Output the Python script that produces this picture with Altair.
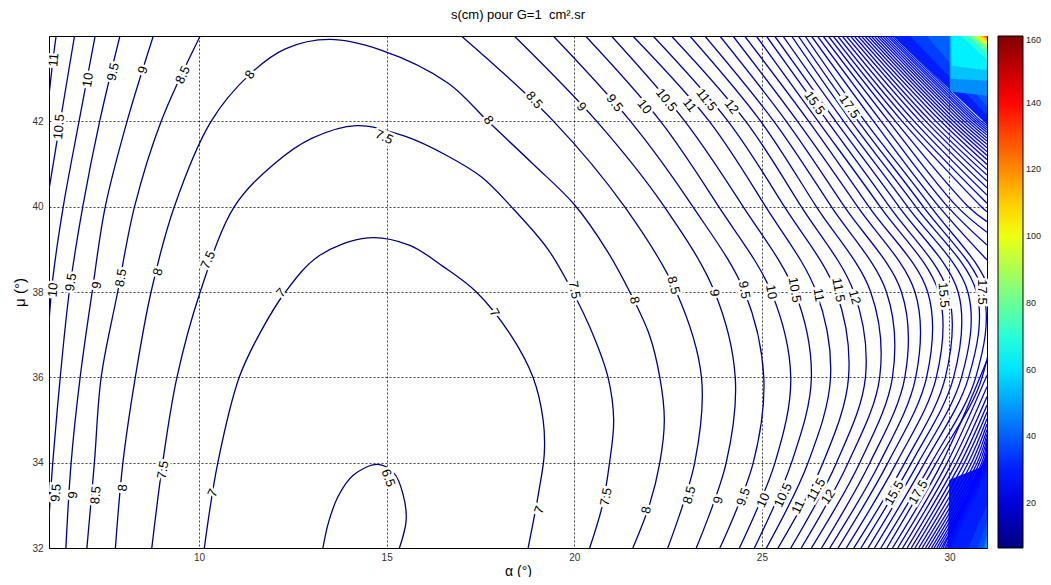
import altair as alt
import pandas as pd

TITLE = "s(cm) pour G=1\u00a0 cm².sr"
X_TITLE = "α (°)"
Y_TITLE = "μ (°)"
X_TICKS = [10, 15, 20, 25, 30]
Y_TICKS = [32, 34, 36, 38, 40, 42]
CBAR_TICKS = [20, 40, 60, 80, 100, 120, 140, 160]
FONT = "Liberation Sans"

# ---- closed / U-shaped contours (alpha, mu)
C65_A = [13.3, 13.45, 13.7, 14.1, 14.76, 15.2, 15.43, 15.52, 15.34]
C65_MU = [32, 32.6, 33.2, 33.7, 33.96, 33.75, 33.28, 32.66, 32]
C7_A = [10.14, 10.5, 11.07, 11.6, 12.3, 13.2, 14.5, 15.6, 16.5, 17.39, 18.3, 18.9, 19.17, 19.2, 19.05, 18.77]
C7_MU = [32, 34, 36, 37, 38, 38.85, 39.27, 39.1, 38.6, 38, 37, 36, 35, 34.2, 33.3, 32]
C75_A = [8.74, 9.03, 9.41, 10.03, 10.94, 12.0, 13.0, 14.2, 15.52, 16.6, 17.52, 18.32, 19.3, 19.96, 20.5, 20.9, 21.05, 20.94, 20.75, 20.41]
C75_MU = [32, 34, 36, 38, 40, 41.0, 41.6, 41.9, 41.64, 41.2, 40.7, 40.0, 39.0, 38, 37, 36, 35, 34, 33, 32]
C8_A = [7.77, 7.97, 8.3, 8.72, 9.34, 10.32, 11.35, 12.3, 13.48, 14.85, 16.63, 17.7, 18.9, 20.0, 20.85, 21.48, 22.0, 22.28, 22.4, 22.28, 22.0, 21.56]
C8_MU = [32, 34, 36, 38, 40, 42, 43.1, 43.7, 43.92, 43.67, 42.9, 42.0, 41.0, 40.05, 39.0, 38, 37, 36, 35, 34, 33, 32]

# ---- left branches
L85_A = [10.03, 8.99, 8.28, 7.83, 7.39, 7.21, 7.01]
L85_MU = [44, 42, 40, 38, 36, 34, 32]
L9_A = [8.78, 8.08, 7.5, 7.15, 6.83, 6.59, 6.45]
L9_MU = [44, 42, 40, 38, 36, 34, 32]
L95_A = [7.89, 7.35, 6.9, 6.54, 6.3, 6.1, 6.0]
L95_MU = [44, 42, 40, 38, 36, 34, 32.7]
L10_A = [7.23, 6.8, 6.38, 6.1, 6.0]
L10_MU = [44, 42, 40, 38.3, 37.3]
L105_A = [6.68, 6.3, 6.0]
L105_MU = [44, 42, 40.4]
L11_A = [6.19, 6.1, 6.0]
L11_MU = [44, 43.4, 42.6]

# ---- right branches: alpha where each level crosses the mu rows
RIGHT_LEVELS = [8.5, 9, 9.5, 10, 10.5, 11, 11.5, 12, 12.5, 13, 13.5, 14, 14.5, 15, 15.5, 16, 16.5, 17, 17.5, 18]
ROW_MU = [44, 42, 40, 38, 36, 34, 32]
R_A44 = [16.99, 18.40, 19.44, 20.30, 20.99, 21.56, 22.10, 22.59, 23.08, 23.48, 23.88, 24.23, 24.54, 24.85, 25.12, 25.34, 25.56, 25.79, 25.97, 26.15]
R_A42 = [19.45, 20.60, 21.50, 22.30, 22.95, 23.60, 24.10, 24.57, 24.97, 25.32, 25.65, 25.95, 26.25, 26.50, 26.75, 26.97, 27.18, 27.38, 27.57, 27.75]
R_A40 = [21.34, 22.40, 23.16, 23.85, 24.50, 25.10, 25.60, 26.05, 26.45, 26.85, 27.20, 27.55, 27.85, 28.15, 28.40, 28.65, 28.88, 29.10, 29.30, 29.50]
R_A38 = [22.72, 23.74, 24.54, 25.25, 25.88, 26.45, 26.98, 27.45, 27.90, 28.32, 28.72, 29.08, 29.42, 29.71, 29.96, 30.23, 30.49, 30.72, 30.90, 31.07]
R_A36 = [23.39, 24.29, 25.05, 25.77, 26.32, 26.83, 27.31, 27.76, 28.14, 28.48, 28.81, 29.10, 29.39, 29.65, 29.89, 30.11, 30.32, 30.51, 30.70, 30.87]
R_A34 = [23.21, 24.05, 24.77, 25.35, 25.79, 26.23, 26.63, 26.99, 27.30, 27.61, 27.88, 28.14, 28.36, 28.59, 28.81, 28.99, 29.17, 29.34, 29.52, 29.65]
R_A32 = [22.49, 23.25, 23.88, 24.40, 24.80, 25.12, 25.43, 25.77, 26.05, 26.32, 26.59, 26.81, 27.03, 27.25, 27.45, 27.64, 27.83, 28.00, 28.17, 28.33]

# ---- dense levels near the right corners
DENSE_LEVELS = [18.5, 19, 19.5, 20, 20.5, 21, 21.5, 22, 22.5, 23, 23.5, 24, 24.5, 25, 25.5, 26, 26.5, 27, 27.5, 28, 28.5, 29, 29.5, 30]
D_A44 = [26.32, 26.48, 26.63, 26.77, 26.90, 27.02, 27.14, 27.25, 27.36, 27.46, 27.56, 27.65, 27.74, 27.83, 27.91, 27.99, 28.07, 28.14, 28.21, 28.28, 28.35, 28.41, 28.47, 28.53]
D_A42 = [27.98, 28.18, 28.38, 28.56, 28.74, 28.90, 29.06, 29.22, 29.37, 29.50, 29.64, 29.77, 29.89, 30.00, 30.10, 30.20, 30.30, 30.39, 30.48, 30.56, 30.64, 30.71, 30.78, 30.85]
D_A40 = [29.72, 29.95, 30.2, 30.5, 30.85, None, None, None, None, None, None, None, None, None, None, None, None, None, None, None, None, None, None, None]
D_MU_UP = [38.75, 39.1, 39.4, 39.65, 39.88, 40.08, 40.27, 40.44, 40.6, 40.74, 40.87, 40.99, 41.1, 41.2, 41.29, 41.38, 41.46, 41.54, 41.61, 41.68, 41.74, 41.8, 41.85, 41.9]
D_MU_LO = [36.4, 36.05, 35.78, 35.55, 35.35, 35.18, 35.03, 34.9, 34.78, 34.67, 34.57, 34.48, 34.4, 34.32, 34.25, 34.18, 34.11, 34.05, 33.99, 33.93, 33.87, 33.81, 33.75, 33.7]
D_A34 = [29.8, 29.94, 30.07, 30.19, 30.3, 30.4, 30.5, 30.59, 30.67, 30.74, 30.8, 30.86, 30.91, 30.95, 30.98, None, None, None, None, None, None, None, None, None]
D_A32 = [28.48, 28.62, 28.75, 28.87, 28.98, 29.08, 29.18, 29.27, 29.36, 29.44, 29.52, 29.59, 29.66, 29.72, 29.78, 29.83, 29.88, 29.92, 29.96, 29.99, 30.02, 30.04, 30.06, 30.08]

# ---- filled (saturated) bands in the corners: edge point, optional bend point, point on right edge
TR_LEVELS = [30, 35, 40, 47, 55, 62, 70, 80, 90, 100, 110, 120, 130, 140]
TR_A44 = [28.5, 28.95, 29.4, 30.0, 30.02, 30.05, 30.3, 30.5, 30.62, 30.72, 30.8, 30.88, 30.94, 30.98]
TR_BEND_A = [None, None, None, 30.01, 30.03, 30.06, None, None, None, None, None, None, None, None]
TR_BEND_MU = [None, None, None, 42.7, 43.0, 43.3, None, None, None, None, None, None, None, None]
TR_MU31 = [41.92, 42.15, 42.35, 42.6, 42.95, 43.2, 43.45, 43.62, 43.72, 43.8, 43.86, 43.92, 43.96, 43.99]
BR_LEVELS = [30, 34, 38, 44, 52]
BR_A32 = [29.95, 30.5, 30.75, 30.9, 30.97]
BR_BEND_A = [30.0, None, None, None, None]
BR_BEND_MU = [33.6, None, None, None, None]
BR_MU31 = [33.95, 33.0, 32.6, 32.3, 32.12]

# ---- contour labels
LAB_TEXT = ["11", "10.5", "10", "9.5", "9", "8.5", "8", "7.5",
            "8", "8.5", "9", "9.5", "10", "10.5", "11", "11.5", "12", "15.5", "17.5",
            "10", "9.5", "9", "8.5", "8", "7.5", "7",
            "7", "7.5", "8", "8.5", "9", "9.5", "10", "10.5", "11", "11.5", "12", "15.5", "17.5",
            "9.5", "9", "8.5", "8", "7.5", "7", "6.5",
            "7", "7.5", "8", "8.5", "9", "9.5", "10", "10.5", "11", "11.5", "12", "15.5", "17.5"]
LAB_A = [6.13, 6.27, 7.04, 7.71, 8.51, 9.57, 11.36, 14.93,
         17.71, 18.93, 20.19, 21.07, 21.87, 22.45, 23.07, 23.52, 24.19, 26.4, 27.33,
         6.11, 6.59, 7.28, 7.92, 8.91, 10.24, 12.19,
         17.87, 20.0, 21.6, 22.64, 23.73, 24.53, 25.25, 25.87, 26.51, 27.04, 27.47, 29.84, 30.88,
         6.19, 6.64, 7.25, 7.97, 9.04, 10.37, 15.04,
         19.07, 20.85, 21.92, 23.07, 23.84, 24.51, 25.04, 25.57, 25.97, 26.45, 26.77, 28.53, 29.17]
LAB_MU = [43.44, 41.87, 42.97, 43.16, 43.2, 43.09, 43.09, 41.63,
          42.03, 42.5, 42.34, 42.43, 42.34, 42.5, 42.38, 42.5, 42.34, 42.43, 42.34,
          38.05, 38.23, 38.16, 38.33, 38.47, 38.75, 37.98,
          37.51, 38.05, 37.81, 38.16, 37.98, 38.05, 38.0, 38.05, 37.93, 38.05, 37.88, 37.93, 38.0,
          33.29, 33.24, 33.24, 33.41, 33.83, 33.29, 33.64,
          32.89, 33.2, 32.89, 33.24, 33.12, 33.2, 33.12, 33.24, 32.96, 33.36, 33.2, 33.29, 33.31]
LAB_ANGLE = [275, 275, 278, 282, 288, 295, 305, 25,
             55, 50, 50, 52, 52, 52, 52, 52, 52, 55, 55,
             275, 278, 280, 280, 285, 295, 312,
             60, 80, 78, 75, 85, 80, 80, 80, 80, 80, 75, 85, 90,
             275, 275, 275, 275, 280, 295, 70,
             290, 280, 280, 285, 285, 290, 295, 295, 295, 300, 305, 300, 300]

# ---------------- assemble tables
line_rows = []


def add_path(key, level, xs, ys):
    k = 0
    for a, m in zip(xs, ys):
        if a is None or m is None:
            continue
        line_rows.append({"key": key, "level": level, "i": k, "a": a, "mu": m})
        k += 1


add_path("c65", 6.5, C65_A, C65_MU)
add_path("c7", 7.0, C7_A, C7_MU)
add_path("c75", 7.5, C75_A, C75_MU)
add_path("c8", 8.0, C8_A, C8_MU)
add_path("l85", 8.5, L85_A, L85_MU)
add_path("l9", 9.0, L9_A, L9_MU)
add_path("l95", 9.5, L95_A, L95_MU)
add_path("l10", 10.0, L10_A, L10_MU)
add_path("l105", 10.5, L105_A, L105_MU)
add_path("l11", 11.0, L11_A, L11_MU)
for j, lev in enumerate(RIGHT_LEVELS):
    xs = [R_A44[j], R_A42[j], R_A40[j], R_A38[j], R_A36[j], R_A34[j], R_A32[j]]
    add_path(f"r{lev}", lev, xs, ROW_MU)
for j, lev in enumerate(DENSE_LEVELS):
    add_path(f"dt{lev}", lev, [D_A44[j], D_A42[j], D_A40[j], 31.0], [44, 42, 40, D_MU_UP[j]])
    add_path(f"db{lev}", lev, [31.0, D_A34[j], D_A32[j]], [D_MU_LO[j], 34, 32])
lines = pd.DataFrame(line_rows)

area_rows = []


def add_band(key, level, pts, edge):
    for a, m in pts:
        if a is None or m is None:
            continue
        area_rows.append({"key": key, "level": level, "a": a, "mu": m, "edge": edge})


for j, lev in enumerate(TR_LEVELS):
    add_band(f"t{lev:03d}", lev, [(TR_A44[j], 44), (TR_BEND_A[j], TR_BEND_MU[j]), (31.0, TR_MU31[j])], 44)
for j, lev in enumerate(BR_LEVELS):
    add_band(f"u{lev:03d}", lev, [(BR_A32[j], 32), (BR_BEND_A[j], BR_BEND_MU[j]), (31.0, BR_MU31[j])], 32)
areas = pd.DataFrame(area_rows)

labels = pd.DataFrame({"t": LAB_TEXT, "a": LAB_A, "mu": LAB_MU, "ang": LAB_ANGLE})

# ---------------- chart
xs = alt.Scale(domain=[6, 31], nice=False, zero=False)
ys = alt.Scale(domain=[32, 44], nice=False, zero=False)
cscale = alt.Scale(domain=[6.5, 25.69, 64.06, 102.44, 140.81, 160],
                   range=["#000080", "#0000ff", "#00ffff", "#ffff00", "#ff0000", "#800000"],
                   interpolate="rgb")
legend = alt.Legend(title=None, type="gradient", orient="right", offset=11, gradientLength=512,
                    gradientThickness=25, values=CBAR_TICKS, labelFontSize=9,
                    labelFont=FONT, labelColor="#222", gradientStrokeColor="#000",
                    gradientStrokeWidth=1, labelOffset=3, padding=0, direction="vertical")
xenc = alt.X("a:Q", scale=xs, axis=alt.Axis(values=X_TICKS, title=X_TITLE, titleFontSize=14,
                                           titlePadding=2, labelPadding=4, grid=True))
yenc = alt.Y("mu:Q", scale=ys, stack=None,
             axis=alt.Axis(values=Y_TICKS, title=Y_TITLE, titleFontSize=15,
                           titlePadding=4, labelPadding=6, grid=True))

area_layer = alt.Chart(areas).mark_area(clip=True, opacity=1).encode(
    x=xenc, y=yenc, y2=alt.Y2("edge:Q"),
    color=alt.Color("level:Q", scale=cscale, legend=legend),
    detail="key:N",
)
line_layer = alt.Chart(lines).mark_line(clip=True, strokeWidth=1.3, interpolate="catmull-rom").encode(
    x=xenc, y=yenc,
    color=alt.Color("level:Q", scale=cscale, legend=None),
    detail="key:N", order=alt.Order("i:Q"),
)
halo = alt.Chart(labels).mark_text(font=FONT, fontSize=13, stroke="white", strokeWidth=5,
                                   fill="white", align="center", baseline="middle").encode(
    x=xenc, y=yenc, text="t:N", angle=alt.Angle("ang:Q", scale=None))
text = alt.Chart(labels).mark_text(font=FONT, fontSize=13, color="black",
                                   align="center", baseline="middle").encode(
    x=xenc, y=yenc, text="t:N", angle=alt.Angle("ang:Q", scale=None))

chart = alt.layer(area_layer, line_layer, halo, text).resolve_legend(
    color="independent"
).properties(
    width=938, height=512,
    background="white",
    title=alt.TitleParams(TITLE, font=FONT, fontSize=13, fontWeight="normal", offset=14, anchor="middle"),
    autosize=alt.AutoSizeParams(type="none"),
    padding={"left": 41, "top": 28, "right": 56, "bottom": 29},
).configure_axis(
    gridColor="#000", gridDash=[2, 2], gridOpacity=0.75, gridWidth=1,
    domain=False, ticks=False, labelFont=FONT, labelFontSize=10, labelColor="#333",
    titleFont=FONT, titleFontWeight="normal", titleColor="#000",
).configure_view(stroke="#000", strokeWidth=1)

chart.save("out.html", embed_options={"renderer": "svg", "actions": False})
